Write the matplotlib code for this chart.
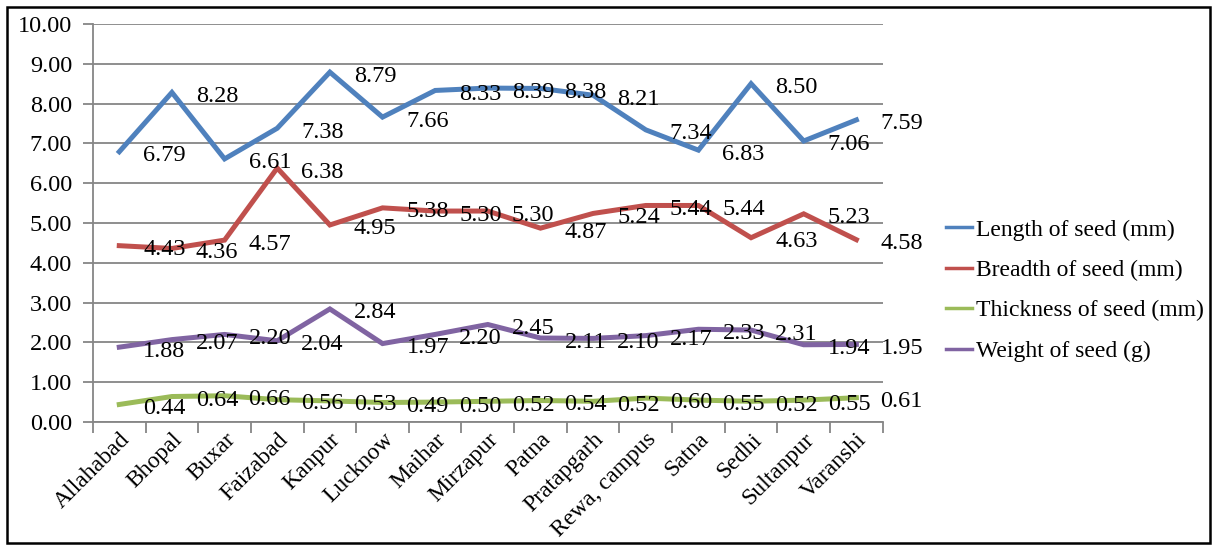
import numpy as np
import matplotlib
matplotlib.use("Agg")
import matplotlib.pyplot as plt
from matplotlib.patches import Rectangle

plt.rcParams['font.family'] = ['Liberation Serif', 'DejaVu Serif']

# Data
places = ['Allahabad', 'Bhopal', 'Buxar', 'Faizabad', 'Kanpur', 'Lucknow', 'Maihar',
          'Mirzapur', 'Patna', 'Pratapgarh', 'Rewa, campus', 'Satna', 'Sedhi',
          'Sultanpur', 'Varanshi']
length = [6.79, 8.28, 6.61, 7.38, 8.79, 7.66, 8.33, 8.39, 8.38, 8.21, 7.34, 6.83, 8.50, 7.06, 7.59]
breadth = [4.43, 4.36, 4.57, 6.38, 4.95, 5.38, 5.30, 5.30, 4.87, 5.24, 5.44, 5.44, 4.63, 5.23, 4.58]
thickness = [0.44, 0.64, 0.66, 0.56, 0.53, 0.49, 0.50, 0.52, 0.54, 0.52, 0.60, 0.55, 0.52, 0.55, 0.61]
weight = [1.88, 2.07, 2.20, 2.04, 2.84, 1.97, 2.20, 2.45, 2.11, 2.10, 2.17, 2.33, 2.31, 1.94, 1.95]

series = [
    ('Length of seed (mm)', length, '#4F81BD'),
    ('Breadth of seed (mm)', breadth, '#C0504D'),
    ('Thickness of seed (mm)', thickness, '#9BBB59'),
    ('Weight of seed (g)', weight, '#8064A2'),
]

fs = 17.5

fig = plt.figure(figsize=(12.15, 5.45), dpi=100)
ax = fig.add_axes([0.0765, 0.2257, 0.65, 0.7303])

x = np.arange(len(places))
for name, vals, col in series:
    ax.plot(x, vals, color=col, lw=3.6, label=name, solid_joinstyle='miter', zorder=3)

# data labels to the right of each point
for name, vals, col in series:
    for xi, v in zip(x, vals):
        ax.annotate(f'{v:.2f}', (xi, v), xytext=(24, -4), textcoords='offset pixels',
                    ha='left', va='center', fontsize=fs, color='black', zorder=4,
                    annotation_clip=False)

ax.set_xlim(-0.5, len(places) - 0.5)
ax.set_ylim(0, 10)
ax.set_yticks(np.arange(0, 11, 1))
ax.set_yticklabels([f'{v:.2f}' for v in np.arange(0, 11, 1)], fontsize=fs)
ax.yaxis.grid(True, color='#868686', lw=1.3)
ax.set_axisbelow(True)

ax.set_xticks(x)
ax.set_xticklabels(places, rotation=45, ha='right', rotation_mode='anchor', fontsize=17)
ax.set_xticks(np.arange(-0.5, len(places), 1), minor=True)
ax.tick_params(axis='x', which='major', length=0, pad=5)
ax.tick_params(axis='x', which='minor', length=8, color='#868686', width=1.3, direction='out')
ax.tick_params(axis='y', length=7, color='#868686', width=1.3, pad=8)

for s in ['top', 'right']:
    ax.spines[s].set_visible(False)
for s in ['left', 'bottom']:
    ax.spines[s].set_color('#868686')
    ax.spines[s].set_linewidth(1.3)

leg = ax.legend(loc='upper left', bbox_to_anchor=(0.779, 0.598), bbox_transform=fig.transFigure,
                frameon=False, fontsize=17, handlelength=1.1, handletextpad=0.15,
                labelspacing=0.8, borderaxespad=0, borderpad=0)
for line in leg.get_lines():
    line.set_linewidth(2.5)

# outer frame
fig.patches.append(Rectangle((0.006, 0.004), 0.99, 0.984, transform=fig.transFigure,
                             fill=False, edgecolor='black', lw=1.8))

fig.savefig('out.png', dpi=100)
